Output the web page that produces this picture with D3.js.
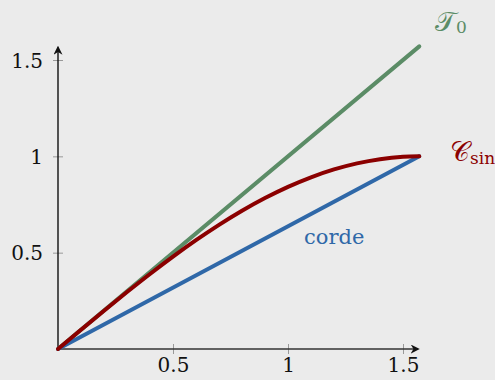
<!DOCTYPE html>
<html>
<head>
<meta charset="utf-8">
<script src="https://cdn.jsdelivr.net/npm/d3@7"></script>
<style>
  body { margin: 0; background: #ebebeb; }
  svg { display: block; }
  text { font-family: "DejaVu Serif", serif; }
</style>
</head>
<body>
<div class="chart"></div>
<script>
// tick values
const xTicks = [0.5, 1, 1.5];
const yTicks = [0.5, 1, 1.5];

// curve of sin
const sinX = [0, 0.1, 0.2, 0.3, 0.4, 0.5, 0.6, 0.7, 0.8, 0.9, 1.0, 1.1, 1.2, 1.3, 1.4, 1.5, 1.5708];
const sinY = [0, 0.0998, 0.1987, 0.2955, 0.3894, 0.4794, 0.5646, 0.6442, 0.7174, 0.7833, 0.8415, 0.8912, 0.9320, 0.9636, 0.9854, 0.9975, 1];

// tangent at 0 and the chord (two end points each)
const tangentX = [0, 1.5708];
const tangentY = [0, 1.5708];
const chordX = [0, 1.5708];
const chordY = [0, 1];

const WIDTH = 495, HEIGHT = 380;

const x = d3.scaleLinear().domain([0, 1.5]).range([58, 403]);
const y = d3.scaleLinear().domain([0, 1.5]).range([349, 60]);

const svg = d3.select(".chart").append("svg")
  .attr("width", WIDTH)
  .attr("height", HEIGHT);

svg.append("rect").attr("width", WIDTH).attr("height", HEIGHT).attr("fill", "#ebebeb");

// arrow head
svg.append("defs").append("marker")
  .attr("id", "arrow")
  .attr("viewBox", "0 0 10 10")
  .attr("refX", 8).attr("refY", 5)
  .attr("markerWidth", 9).attr("markerHeight", 9)
  .attr("markerUnits", "userSpaceOnUse")
  .attr("orient", "auto")
  .append("path")
  .attr("d", "M0,0 L10,5 L0,10 L3,5 Z")
  .attr("fill", "#111");

// x axis
const xAxis = svg.append("g")
  .attr("transform", `translate(0,${y(0)})`)
  .call(d3.axisBottom(x).tickValues(xTicks).tickFormat(d3.format("")).tickSize(5));
xAxis.select(".domain").remove();
xAxis.selectAll(".tick line").attr("y1", -5).attr("y2", 5).attr("stroke", "#999");
xAxis.selectAll(".tick text")
  .attr("y", 9).attr("dy", "0.71em")
  .attr("font-size", 20).attr("font-family", "DejaVu Serif").attr("fill", "#111");

// y axis
const yAxis = svg.append("g")
  .attr("transform", `translate(${x(0)},0)`)
  .call(d3.axisLeft(y).tickValues(yTicks).tickFormat(d3.format("")).tickSize(5));
yAxis.select(".domain").remove();
yAxis.selectAll(".tick line").attr("x1", -5).attr("x2", 5).attr("stroke", "#999");
yAxis.selectAll(".tick text")
  .attr("x", -15).attr("dy", "0.36em")
  .attr("font-size", 20).attr("font-family", "DejaVu Serif").attr("fill", "#111");

// axis lines with arrows
svg.append("line")
  .attr("x1", x(0)).attr("y1", y(0))
  .attr("x2", x(1.565)).attr("y2", y(0))
  .attr("stroke", "#333").attr("stroke-width", 1.4)
  .attr("marker-end", "url(#arrow)");
svg.append("line")
  .attr("x1", x(0)).attr("y1", y(0))
  .attr("x2", x(0)).attr("y2", y(1.565))
  .attr("stroke", "#111").attr("stroke-width", 1.4)
  .attr("marker-end", "url(#arrow)");

const line = d3.line().x(d => x(d[0])).y(d => y(d[1]));

function drawLine(xs, ys, color, width) {
  svg.append("path")
    .datum(xs.map((v, i) => [v, ys[i]]))
    .attr("d", line.curve(d3.curveMonotoneX))
    .attr("fill", "none")
    .attr("stroke", color)
    .attr("stroke-width", width)
    .attr("stroke-linecap", "round")
    .attr("stroke-linejoin", "round");
}

drawLine(tangentX, tangentY, "#5b8c66", 4);
drawLine(chordX, chordY, "#2f68a8", 4);
drawLine(sinX, sinY, "#8b0000", 4);

// labels
const t0 = svg.append("text")
  .attr("x", 435).attr("y", 31)
  .attr("font-size", 27).attr("fill", "#5b8c66");
t0.append("tspan").text("𝒯");
t0.append("tspan").text("0").attr("font-size", 17).attr("dy", 2);

const cs = svg.append("text")
  .attr("x", 450).attr("y", 161)
  .attr("font-size", 27).attr("fill", "#8b0000");
cs.append("tspan").text("𝒞");
cs.append("tspan").text("sin").attr("font-size", 17).attr("dy", 3);

svg.append("text")
  .attr("x", 304).attr("y", 244)
  .attr("font-size", 21).attr("fill", "#2f68a8")
  .text("corde");
</script>
</body>
</html>
